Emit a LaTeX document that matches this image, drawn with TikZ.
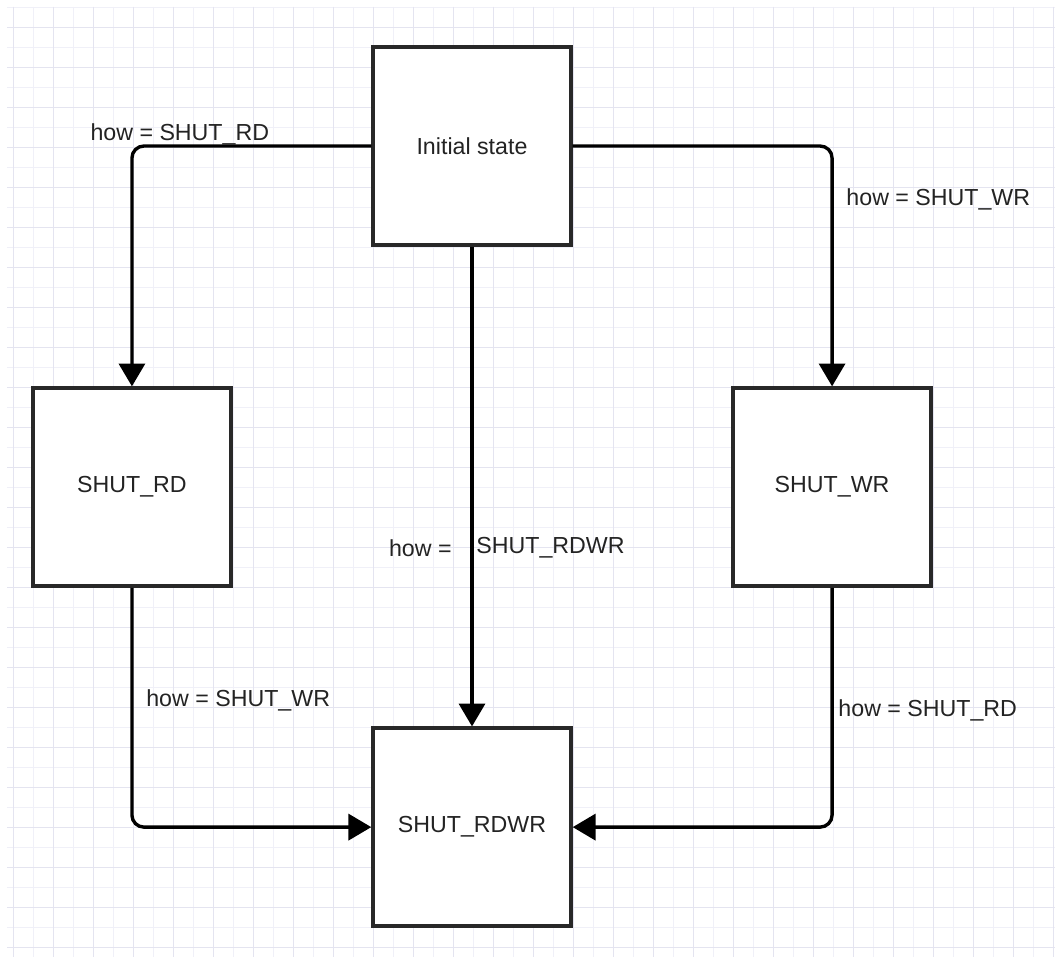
\documentclass[tikz,border=0pt]{standalone}
\usepackage{fontspec}
\setmainfont{Liberation Sans}
\usetikzlibrary{positioning,arrows.meta}
\definecolor{gridminor}{RGB}{240,240,248}
\definecolor{gridmajor}{RGB}{228,228,240}
\definecolor{boxline}{RGB}{40,40,40}
\definecolor{labeltext}{RGB}{35,35,35}

\begin{document}
\begin{tikzpicture}[x=0.025cm,y=-0.025cm,>={Triangle[length=5.7mm,width=6.5mm]},
  node distance=3.465cm and 3.465cm,
  state/.style={draw=boxline,line width=2.4pt,fill=white,minimum size=4.95cm,
    font=\fontsize{16.5}{20}\selectfont,text=labeltext},
  cond/.style={font=\fontsize{16.5}{20}\selectfont,text=labeltext},
  link/.style={->,line width=2.4pt,rounded corners=0.3cm}]
\useasboundingbox[fill=white] (0,0) rectangle (1058,964);
% grid
\foreach \gx in {13,33,...,1053} \draw[gridminor] (\gx,7) -- (\gx,957);
\foreach \gy in {7,27,...,947} \draw[gridminor] (7,\gy) -- (1055,\gy);
\foreach \gx in {13,53,...,1053} \draw[gridmajor] (\gx,7) -- (\gx,957);
\foreach \gy in {27,67,...,947} \draw[gridmajor] (7,\gy) -- (1055,\gy);

\node[state] (init) at (472,146) {Initial state};
\node[state,below left=3.49cm and 3.465cm of init] (rd) {SHUT\_RD};
\node[state,below right=3.49cm and 3.965cm of init] (wr) {SHUT\_WR};
\node[state,below right=of rd] (rdwr) {SHUT\_RDWR};

\draw[link] (init.west) -| node[cond,pos=0.4,above,yshift=-0.13cm] {how = SHUT\_RD} (rd.north);
\draw[link] (init.east) -| node[cond,pos=0.612,right,xshift=0.2cm] {how = SHUT\_WR} (wr.north);
\draw[link] (init.south) -- node[cond,pos=0.628,left,xshift=-0.35cm] {how =}
  node[cond,pos=0.628,right,xshift=-0.05cm] {SHUT\_RDWR} (rdwr.north);
\draw[link] (rd.south) |- node[cond,pos=0.236,right,xshift=0.2cm] {how = SHUT\_WR} (rdwr.west);
\draw[link] (wr.south) |- node[cond,pos=0.256,right] {how = SHUT\_RD} (rdwr.east);
\end{tikzpicture}
\end{document}
